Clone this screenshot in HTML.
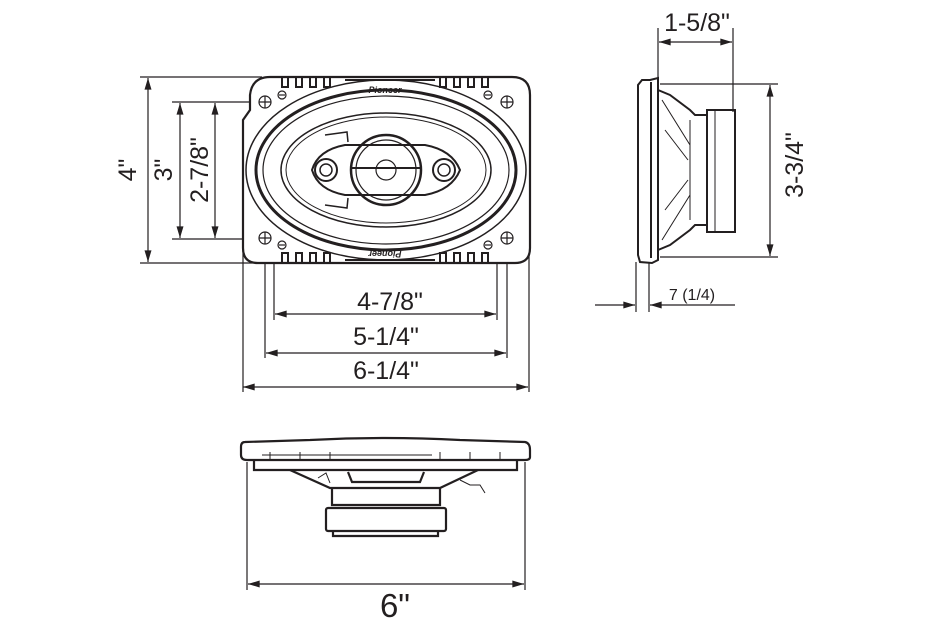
<!DOCTYPE html>
<html><head><meta charset="utf-8"><style>
html,body{margin:0;padding:0;background:#fff;width:930px;height:640px;overflow:hidden}
svg{display:block}
text{font-family:"Liberation Sans",Arial,sans-serif;fill:#231f20}
</style></head><body>
<svg width="930" height="640" viewBox="0 0 930 640" xmlns="http://www.w3.org/2000/svg">
<defs>
<marker id="a" viewBox="0 0 10 6" refX="10" refY="3" markerWidth="12" markerHeight="7" markerUnits="userSpaceOnUse" orient="auto-start-reverse"><path d="M0,0 L10,3 L0,6 z" fill="#231f20"/></marker>
</defs>
<g stroke="#231f20" fill="none" stroke-width="1.2">
<line x1="140" y1="77" x2="262" y2="77"/>
<line x1="140" y1="263" x2="262" y2="263"/>
<line x1="172" y1="102" x2="255" y2="102"/>
<line x1="172" y1="239" x2="255" y2="239"/>
<line x1="243" y1="245" x2="243" y2="392"/>
<line x1="265" y1="245" x2="265" y2="358"/>
<line x1="274" y1="245" x2="274" y2="320"/>
<line x1="497" y1="245" x2="497" y2="320"/>
<line x1="507" y1="245" x2="507" y2="358"/>
<line x1="529" y1="245" x2="529" y2="392"/>
<line x1="148" y1="78" x2="148" y2="262" marker-start="url(#a)" marker-end="url(#a)"/>
<line x1="180" y1="103" x2="180" y2="238" marker-start="url(#a)" marker-end="url(#a)"/>
<line x1="215" y1="103" x2="215" y2="238" marker-start="url(#a)" marker-end="url(#a)"/>
<line x1="275" y1="314" x2="496" y2="314" marker-start="url(#a)" marker-end="url(#a)"/>
<line x1="266" y1="353" x2="506" y2="353" marker-start="url(#a)" marker-end="url(#a)"/>
<line x1="243" y1="387" x2="528" y2="387" marker-start="url(#a)" marker-end="url(#a)"/>

<g stroke-width="2.2">
<path d="M270,77 L512,77 Q530,77 530,95 L530,248 Q530,263 515,263 L258,263 Q243,263 243,248 L243,120 L250,110 L250,95 Q252,77 270,77 Z" fill="#fff"/>
</g>
<g stroke-width="2">
<path d="M282,77 v10 h6 v-10 M296,77 v10 h6 v-10 M310,77 v10 h6 v-10 M324,77 v10 h6 v-10 M440,77 v10 h6 v-10 M454,77 v10 h6 v-10 M468,77 v10 h6 v-10 M482,77 v10 h6 v-10"/>
<path d="M282,263 v-10 h6 v10 M296,263 v-10 h6 v10 M310,263 v-10 h6 v10 M324,263 v-10 h6 v10 M440,263 v-10 h6 v10 M454,263 v-10 h6 v10 M468,263 v-10 h6 v10 M482,263 v-10 h6 v10"/>
<path d="M345,80 h90 M345,260 h90"/>
</g>
<ellipse cx="386" cy="170" rx="140" ry="90" stroke-width="1.5"/>
<ellipse cx="386" cy="170" rx="130" ry="80" stroke-width="3"/>
<ellipse cx="386" cy="170" rx="123" ry="74" stroke-width="1.2"/>
<ellipse cx="386" cy="170" rx="105" ry="57" stroke-width="1.5"/>
<ellipse cx="386" cy="170" rx="100" ry="53" stroke-width="1"/>
<path d="M312,170 Q318,150 345,145 L425,145 Q452,150 460,170 Q452,190 425,195 L345,195 Q318,190 312,170 Z" stroke-width="2"/>
<circle cx="386" cy="170" r="35" stroke-width="2.5"/>
<circle cx="386" cy="170" r="30" stroke-width="1.2"/>
<circle cx="386" cy="170" r="10" stroke-width="1.2"/>
<line x1="350" y1="168" x2="422" y2="168" stroke-width="2"/>
<circle cx="326" cy="170" r="11" stroke-width="2"/>
<circle cx="326" cy="170" r="6" stroke-width="1.5"/>
<circle cx="444" cy="170" r="11" stroke-width="2"/>
<circle cx="444" cy="170" r="6" stroke-width="1.5"/>
<path d="M325,135 L347,132 L348,142 M325,205 L347,208 L348,198" stroke-width="1.5"/>
<g stroke-width="1.2">
<circle cx="265" cy="102" r="6"/><path d="M259,102h12M265,96v12"/>
<circle cx="282" cy="95" r="4"/><path d="M279,95h6"/>
<circle cx="507" cy="102" r="6"/><path d="M501,102h12M507,96v12"/>
<circle cx="488" cy="95" r="4"/><path d="M485,95h6"/>
<circle cx="265" cy="238" r="6"/><path d="M259,238h12M265,232v12"/>
<circle cx="282" cy="245" r="4"/><path d="M279,245h6"/>
<circle cx="507" cy="238" r="6"/><path d="M501,238h12M507,232v12"/>
<circle cx="488" cy="245" r="4"/><path d="M485,245h6"/>
</g>

<line x1="658" y1="28" x2="658" y2="82"/>
<line x1="733" y1="28" x2="733" y2="112"/>
<line x1="659" y1="42" x2="732" y2="42" marker-start="url(#a)" marker-end="url(#a)"/>
<line x1="660" y1="84" x2="778" y2="84"/>
<line x1="660" y1="257" x2="778" y2="257"/>
<line x1="770" y1="85" x2="770" y2="256" marker-start="url(#a)" marker-end="url(#a)"/>
<line x1="636" y1="262" x2="636" y2="312"/>
<line x1="649" y1="262" x2="649" y2="312"/>
<line x1="595" y1="305" x2="635" y2="305" marker-end="url(#a)"/>
<line x1="735" y1="305" x2="650" y2="305" marker-end="url(#a)"/>
<g stroke-width="2">
<path d="M650,80 L658,78 L658,260 L652,263 L640,262 L638,255 L638,85 L642,80 Z"/>
<line x1="651" y1="82" x2="651" y2="258"/>
<path d="M658,90 L670,95 L690,110 L695,115 L707,115 L707,225 L695,225 L690,230 L670,245 L658,250"/>
<rect x="707" y="110" width="28" height="122"/>
<line x1="715" y1="110" x2="715" y2="232" stroke-width="1"/>
</g>
<g stroke-width="1">
<path d="M662,100 L690,145 M662,240 L690,195 M690,120 L690,220 M665,130 L688,160 M665,210 L688,180"/>
</g>

<line x1="247" y1="462" x2="247" y2="590"/>
<line x1="525" y1="462" x2="525" y2="590"/>
<line x1="248" y1="584" x2="524" y2="584" marker-start="url(#a)" marker-end="url(#a)"/>
<g stroke-width="2.2">
<path d="M245,442 L310,440 Q385,436 460,440 L525,442 Q530,443 530,450 L530,457 Q530,460 525,460 L247,460 Q241,460 241,455 L241,447 Q241,442 245,442 Z"/>
<path d="M254,460 L254,470 L517,470 L517,460"/>
<path d="M290,470 L330,488 L440,488 L478,470"/>
<path d="M332,488 L332,505 L440,505 L440,488"/>
<rect x="326" y="508" width="120" height="23" rx="2"/>
<path d="M333,531 L333,536 L438,536 L438,531"/>
<path d="M348,472 L352,482 L420,482 L424,472"/>
</g>
<g stroke-width="1">
<path d="M262,455 h170 M270,452v8 M300,452v8 M330,452v8 M440,452v8 M470,452v8 M500,452v8"/>
<path d="M318,478 l8,-5 l4,10 M460,480 l10,5 l10,0 l5,8"/>
</g>
</g>

<text x="390" y="310" font-size="25" text-anchor="middle">4-7/8"</text>
<text x="386" y="345" font-size="25" text-anchor="middle">5-1/4"</text>
<text x="386" y="379" font-size="25" text-anchor="middle">6-1/4"</text>
<text x="395" y="617" font-size="33" text-anchor="middle">6"</text>
<text x="697" y="31" font-size="25" text-anchor="middle">1-5/8"</text>
<text x="692" y="300" font-size="16" text-anchor="middle" fill="#555">7 (1/4)</text>
<text transform="translate(803,165) rotate(-90)" font-size="25" text-anchor="middle">3-3/4"</text>
<text transform="translate(136,170) rotate(-90)" font-size="25" text-anchor="middle">4"</text>
<text transform="translate(172,170) rotate(-90)" font-size="25" text-anchor="middle">3"</text>
<text transform="translate(208,170) rotate(-90)" font-size="25" text-anchor="middle">2-7/8"</text>
<text x="385" y="93" font-size="9" font-style="italic" font-weight="bold" text-anchor="middle">Pioneer</text>
<text transform="translate(385,251) rotate(180)" font-size="9" font-style="italic" font-weight="bold" text-anchor="middle">Pioneer</text>
</svg>
</body></html>
